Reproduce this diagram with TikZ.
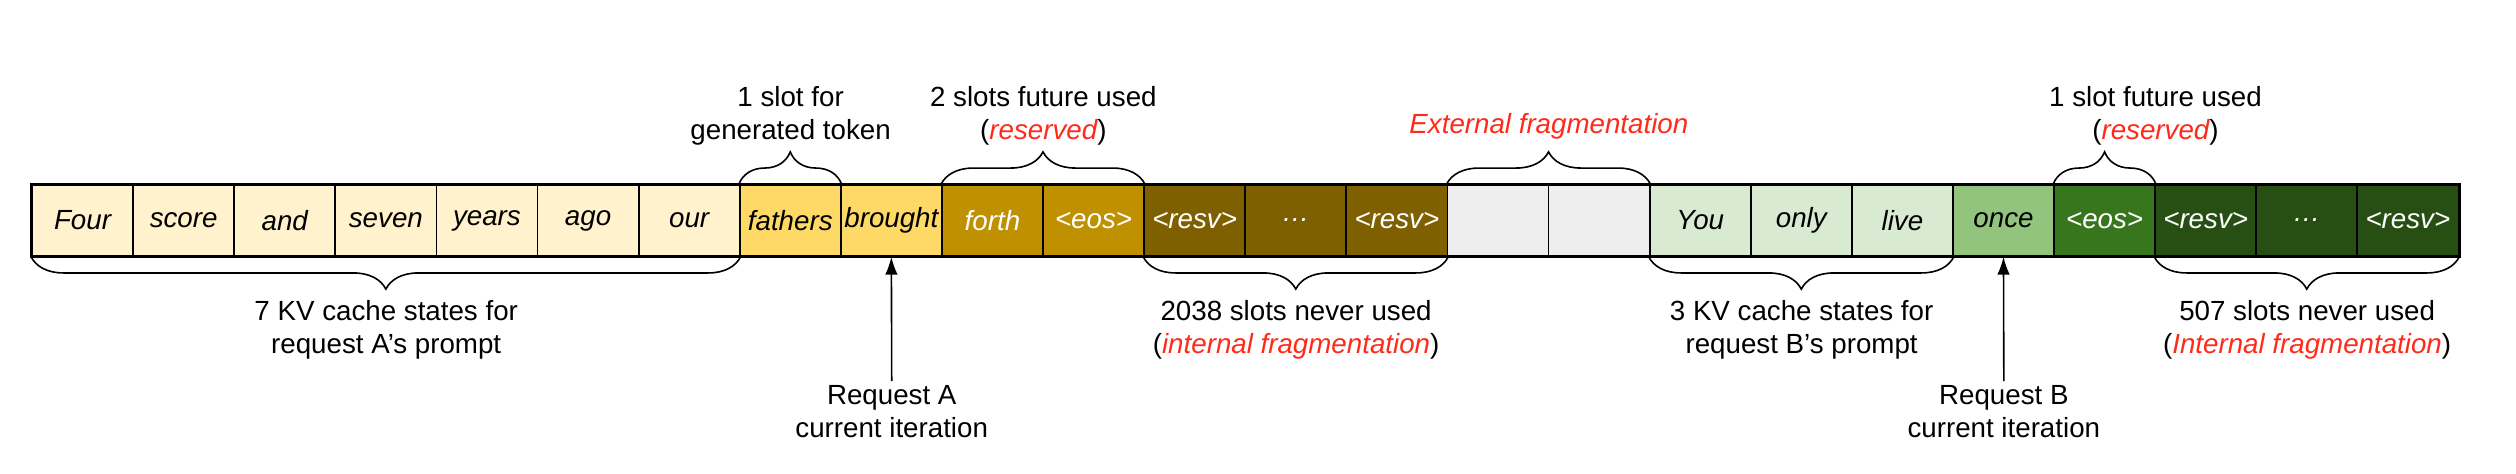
\documentclass[tikz,border=0pt]{standalone}
\usepackage{fontspec}
\setmainfont{Liberation Sans}
\usepackage{tikz}
\usetikzlibrary{decorations.pathreplacing,arrows.meta}

\definecolor{promptA}{HTML}{FFF2CC}
\definecolor{genA}{HTML}{FFD966}
\definecolor{resA}{HTML}{BF9000}
\definecolor{unusedA}{HTML}{7F6000}
\definecolor{freeslot}{HTML}{EEEEEE}
\definecolor{promptB}{HTML}{D9EAD3}
\definecolor{genB}{HTML}{93C47D}
\definecolor{resB}{HTML}{38761D}
\definecolor{unusedB}{HTML}{274E13}
\definecolor{fragred}{HTML}{FF2A1A}

\newcommand{\frag}[1]{\textcolor{fragred}{\itshape #1}}
\newcommand{\lt}{\textless}
\newcommand{\gt}{\textgreater}

\tikzset{
  slot/.style={draw=black, line width=0.5pt, minimum width=1cm, minimum height=0.7cm,
    inner sep=0pt, font=\fontsize{7.8}{9.3}\selectfont\itshape},
  lbl/.style={align=center, font=\fontsize{7.8}{9.3}\selectfont, inner sep=0pt},
  brc/.style={decorate, decoration={brace, amplitude=0.32cm}, line width=0.45pt},
  ptr/.style={-{Latex[length=5pt,width=3.5pt]}, line width=0.45pt, shorten <=1pt},
}

\begin{document}
\begin{tikzpicture}
    \useasboundingbox (0,0) rectangle (24.886,4.688);

    % KV cache slots
    \foreach \i/\txt/\fc/\tc in {
        0/Four/promptA/black, 1/score/promptA/black, 2/and/promptA/black,
        3/seven/promptA/black, 4/years/promptA/black, 5/ago/promptA/black,
        6/our/promptA/black, 7/fathers/genA/black, 8/brought/genA/black,
        9/forth/resA/white, 10/\lt eos\gt/resA/white,
        11/\lt resv\gt/unusedA/white, 12/…/unusedA/white, 13/\lt resv\gt/unusedA/white,
        14/{}/freeslot/black, 15/{}/freeslot/black,
        16/You/promptB/black, 17/only/promptB/black, 18/live/promptB/black,
        19/once/genB/black, 20/\lt eos\gt/resB/white,
        21/\lt resv\gt/unusedB/white, 22/…/unusedB/white, 23/\lt resv\gt/unusedB/white}
        \node[slot, fill=\fc, text=\tc] (c\i) at (0.8165+\i,2.507) {\txt};
    \draw[line width=0.8pt] (c0.north west) rectangle (c23.south east);

    % braces above
    \draw[brc] (c7.north west) -- (c7.north east);
    \draw[brc] (c9.north west) -- (c10.north east);
    \draw[brc] (c14.north west) -- (c15.north east);
    \draw[brc] (c20.north west) -- (c20.north east);
    \node[lbl] (genlbl) at (7.82,3.546) {1 slot for\\generated token};
    \node[lbl] (resAlbl) at (10.32,3.546) {2 slots future used\\(\frag{reserved})};
    \node[lbl] (extlbl) at (15.32,3.442) {\frag{External fragmentation}};
    \node[lbl] (resBlbl) at (21.32,3.546) {1 slot future used\\(\frag{reserved})};

    % braces below
    \draw[brc] (c6.south east) -- (c0.south west);
    \draw[brc] (c13.south east) -- (c11.south west);
    \draw[brc] (c18.south east) -- (c16.south west);
    \draw[brc] (c23.south east) -- (c21.south west);
    \node[lbl] (promptAlbl) at (3.82,1.429) {7 KV cache states for\\request A’s prompt};
    \node[lbl] (unusedAlbl) at (12.82,1.429) {2038 slots never used\\(\frag{internal fragmentation})};
    \node[lbl] (promptBlbl) at (17.82,1.429) {3 KV cache states for\\request B’s prompt};
    \node[lbl] (unusedBlbl) at (22.82,1.429) {507 slots never used\\(\frag{Internal fragmentation})};

    % current iteration pointers
    \node[lbl] (iterA) at (8.82,0.618) {Request A\\current iteration};
    \node[lbl] (iterB) at (19.82,0.618) {Request B\\current iteration};
    \draw[ptr] (iterA.north) -- (c8.south);
    \draw[ptr] (iterB.north) -- (c19.south);
\end{tikzpicture}
\end{document}
